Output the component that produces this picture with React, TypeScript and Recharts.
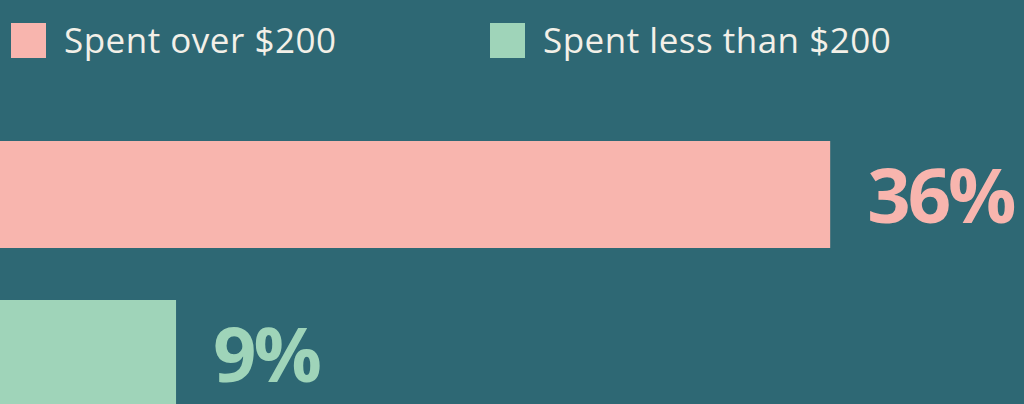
import React from "react";
import { BarChart, Bar, XAxis, YAxis, Cell, LabelList, Legend } from "recharts";

const categories = ["Spent over $200", "Spent less than $200"];
const shares = [36, 9];
const labels = ["36%", "9%"];
const colors = ["#f8b5ae", "#9fd4b9"];

const data = categories.map((name, i) => ({ name, value: shares[i], label: labels[i] }));

const BG = "#2e6874";
const SHIFT = 42;

const LegendContent = () => (
  <div style={{ position: "relative", height: 80, width: 1024, fontFamily: "'Open Sans', sans-serif" }}>
    {categories.map((c, i) => (
      <div
        key={c}
        style={{
          position: "absolute",
          top: 22,
          left: i === 0 ? 11 : 490,
          display: "flex",
          alignItems: "center",
          height: 36,
        }}
      >
        <div style={{ width: 35, height: 35, background: colors[i] }} />
        <span
          style={{
            marginLeft: 18,
            fontSize: 35,
            letterSpacing: 0.5,
            color: "#f3f0e8",
            lineHeight: "36px",
            whiteSpace: "nowrap",
          }}
        >
          {c}
        </span>
      </div>
    ))}
  </div>
);

const renderLabel = (props: any) => {
  const { x, y, width, height, index } = props;
  return (
    <text
      x={x + width + 37}
      y={y + height / 2}
      dy="0.37em"
      fill={colors[index]}
      fontSize={76}
      fontWeight={700}
      letterSpacing={-3}
      fontFamily="'Open Sans', sans-serif"
    >
      {labels[index]}
    </text>
  );
};

export default function App() {
  return (
    <div style={{ position: "absolute", top: 0, left: 0, width: 1024, height: 404, overflow: "hidden", background: BG }}>
      <div style={{ position: "absolute", top: 0, left: -SHIFT }}>
        <BarChart
          width={1024 + SHIFT}
          height={433}
          data={data}
          layout="vertical"
          margin={{ top: 35, right: 0, bottom: 0, left: 0 }}
        >
          <XAxis type="number" hide domain={[0, 44]} />
          <YAxis type="category" dataKey="name" hide />
          <Legend
            verticalAlign="top"
            align="left"
            content={LegendContent}
            wrapperStyle={{ top: 0, left: SHIFT, width: 1024, height: 80 }}
          />
          <Bar dataKey="value" barSize={107} isAnimationActive={false}>
            {data.map((d, i) => (
              <Cell key={d.name} fill={colors[i]} />
            ))}
            <LabelList dataKey="label" content={renderLabel} />
          </Bar>
        </BarChart>
      </div>
    </div>
  );
}
